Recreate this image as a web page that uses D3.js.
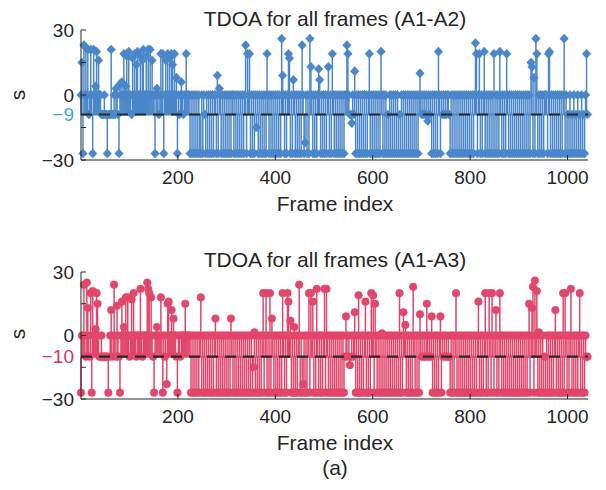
<!DOCTYPE html>
<html><head><meta charset="utf-8">
<script src="https://cdn.jsdelivr.net/npm/d3@7"></script>
<style>
body{margin:0;background:#fff}
text{font-family:"Liberation Sans",Arial,Helvetica,sans-serif;fill:#262626}
</style>
</head><body>
<svg id="chart" width="606" height="490"></svg>
<script>
// ---- data (frame index sampled every 2 frames, starting at frame 1) ----
const frameStart = 1;
const frameStep = 2;
const a2Values = [
 0,15,-27,23,0,22,0,21,-9,0,
 21,0,-27,21,0,4,20,0,16,0,
 0,-9,-9,-9,0,-9,-9,-27,-9,-9,
 -9,21,-9,-9,0,-9,3,0,-9,-27,
 5,0,6,0,19,0,4,18,0,20,
 0,0,-9,17,0,19,0,14,20,0,
 0,18,0,16,21,0,0,18,0,21,
 0,21,0,16,0,0,-27,0,3,0,
 -9,0,19,0,19,-27,0,16,0,19,
 0,17,0,19,14,0,19,0,8,-27,
 0,-9,0,6,0,-9,0,0,19,0,
 0,0,-27,0,-27,0,-27,0,-27,0,
 -27,0,-27,-27,0,-27,0,-9,-27,0,
 -27,0,-27,0,-27,0,-27,0,0,-27,
 9,-27,3,0,-27,0,-27,0,-27,0,
 -27,0,-27,0,-27,0,0,-27,0,-27,
 0,-27,0,-27,0,-27,0,-27,0,23,
 -27,19,0,19,-27,0,-27,0,-27,0,
 -15,0,-27,0,-27,0,-27,0,-27,0,
 -27,19,0,-27,0,-27,0,-27,0,-27,
 0,-27,0,-27,0,-27,26,9,0,-27,
 0,-27,0,19,17,-27,0,-27,7,0,
 -27,0,-27,0,-27,0,-27,23,0,-27,
 -22,0,-27,0,-27,26,13,0,-27,0,
 -27,0,-27,0,12,7,-27,0,-27,0,
 -27,0,-27,0,13,-27,0,-27,19,0,
 -27,0,-27,0,-27,0,-27,0,-27,0,
 -27,0,0,23,19,0,-9,-9,-13,0,
 -9,11,-27,0,-27,0,-27,0,-27,0,
 -27,0,-27,0,-27,0,19,-27,0,-27,
 0,-27,0,-27,0,-27,0,-27,20,0,
 -27,0,-27,0,-27,-9,-27,0,-27,0,
 -27,0,-27,0,-27,0,-27,-9,-27,0,
 -27,0,-27,0,-27,0,-27,0,-27,0,
 -27,0,-27,0,-27,0,-27,0,10,0,
 -9,0,-9,0,-9,0,-12,0,-9,0,
 -27,0,-27,0,-27,0,-27,20,0,-27,
 0,-9,0,-9,0,-9,0,0,-9,-27,
 0,-27,0,-27,0,-27,0,-27,0,-27,
 0,-27,0,-27,0,-27,0,-27,0,-27,
 0,-27,0,-27,0,24,19,-27,0,19,
 -27,0,-27,0,20,-27,0,-27,0,-27,
 0,-27,0,-27,19,-27,0,-27,0,-27,
 20,0,-27,0,-27,0,-27,19,0,-27,
 0,-27,0,-27,0,-27,0,-27,0,-27,
 0,-27,0,-27,0,-27,0,-27,0,-27,
 0,-27,15,13,-27,8,-27,26,19,-27,
 0,-27,0,-27,0,-27,0,0,0,-27,
 19,20,-27,0,-27,0,-27,0,-27,0,
 -27,0,-27,0,-27,0,26,-27,0,-27,
 -9,-27,0,-27,-9,-27,0,-27,-9,-27,
 0,-27,-9,-27,0,-27,-9,-27,0,19,
 -9
];
const a3Values = [
 -27,0,0,24,0,-10,25,13,0,-10,
 20,-27,21,0,0,3,20,15,0,-10,
 -10,0,-10,-10,-10,-10,-10,-10,-27,-10,
 0,12,-10,0,24,0,-10,14,0,-10,
 -27,0,16,0,4,0,18,0,18,0,
 -10,0,17,0,20,0,0,-10,0,0,
 0,22,0,-10,0,0,0,0,25,22,
 20,0,18,0,-10,-27,0,0,4,0,
 0,0,18,0,-27,0,-10,0,-23,15,
 16,0,0,12,0,8,0,0,-10,-27,
 0,0,-10,0,0,0,0,15,0,0,
 0,0,0,-27,0,-27,0,-27,0,-27,
 0,-27,0,18,-27,0,-27,0,-27,0,
 -27,0,-27,0,-27,0,-27,0,8,-27,
 0,-27,0,-27,0,-27,0,-27,0,-27,
 0,-27,0,-27,8,0,-27,0,-27,0,
 -27,0,-27,0,-27,0,-27,0,-27,0,
 -27,0,-27,0,-27,0,-27,-15,1.5,-27,
 0,-27,0,-27,0,-27,0,20,-27,0,
 20,-27,0,-27,20,-27,8,0,-27,0,
 -27,0,-27,0,-27,0,-27,20,0,-27,
 0,-27,20,16,0,7,-27,0,-27,4,
 -27,0,-27,0,24,-27,0,-27,-23,0,
 -27,0,-27,0,20,-27,20,0,16,-27,
 0,-27,22,0,-27,0,-27,0,-27,0,
 22,-27,22,0,-27,0,-27,0,-27,0,
 -27,0,-27,0,-27,0,-27,0,-27,0,
 -27,-10,9,0,-10,0,-14,-10,0,-10,
 0,11,-27,0,-27,19,-27,0,-27,0,
 -27,0,16,-27,0,-27,0,-27,20,0,
 19,-27,15,0,-27,0,-27,0,-27,1,
 -27,0,-27,0,-27,0,-27,0,-27,0,
 -27,0,-27,0,-27,0,-27,20,-27,0,
 -27,11,0,5,-27,0,-27,0,-27,0,
 -27,23,0,-27,0,-27,0,-27,10,0,
 -10,0,-10,0,-10,15,0,-10,0,-10,
 9,-27,0,-27,0,-27,0,-27,0,9,
 -27,0,-10,0,-10,0,-10,0,-10,-27,
 0,-27,0,-27,0,20,-27,0,-27,0,
 -27,0,-27,0,-27,0,-27,0,-27,0,
 -27,0,-27,0,-27,0,-27,0,16,-27,
 0,-27,0,-27,0,20,-27,0,-27,20,
 0,-27,20,0,-27,0,12,-27,0,-27,
 20,0,-27,0,-27,0,-27,0,-27,0,
 -27,0,-27,0,-27,0,-27,0,-27,0,
 -27,0,-27,0,-27,0,-27,0,-27,0,
 15,-27,0,13,23,-27,26,0,21,-27,
 1.5,-27,0,-27,0,-27,-10,-27,0,-27,
 0,-27,0,-27,0,-27,0,12,-27,0,
 -27,0,-27,0,-27,20,-27,20,0,-27,
 0,-27,0,22,-27,0,-27,0,-27,0,
 -27,0,20,-27,0,-27,0,-27,0,-10,
 -10
];
const a2Reference = -9;
const a3Reference = -10;
const titles = ["TDOA for all frames (A1-A2)", "TDOA for all frames (A1-A3)"];
const xTickValues = [200, 400, 600, 800, 1000];
const yTickLabels = [30, 0, -30];
const yMinorTicks = [15, -15];
const xLabel = "Frame index";
const yLabel = "s";
const caption = "(a)";

// ---- drawing ----
const svg = d3.select("#chart");
const x = d3.scaleLinear().domain([1, 1042]).range([81, 588]);

const panels = [
  {values: a2Values, ref: a2Reference, title: titles[0], color: "#4A86CA", refColor: "#3FA6E6",
   marker: "diamond", top: 30, bottom: 160, titleY: 26, yLabelY: 95},
  {values: a3Values, ref: a3Reference, title: titles[1], color: "#E2466A", refColor: "#D8335F",
   marker: "circle", top: 272, bottom: 399, titleY: 267, yLabelY: 334}
];

const diamondPath = "M0,-4.6L4.3,0L0,4.6L-4.3,0Z";

panels.forEach(p => {
  const g = svg.append("g");
  const y = d3.scaleLinear().domain([-30, 30]).range([p.bottom, p.top]);
  const data = p.values.map((v, i) => ({f: frameStart + i * frameStep, v}));

  // stems from the base value
  g.append("g").selectAll("line").data(data).join("line")
    .attr("x1", d => x(d.f)).attr("x2", d => x(d.f))
    .attr("y1", y(p.ref)).attr("y2", d => y(d.v))
    .attr("stroke", p.color).attr("stroke-width", 1.5);

  // baseline
  g.append("line").attr("x1", x(1)).attr("x2", x(1042))
    .attr("y1", y(p.ref)).attr("y2", y(p.ref))
    .attr("stroke", p.color).attr("stroke-width", 2);

  // markers
  const sel = g.append("g").selectAll("path").data(data).join("path")
    .attr("transform", d => `translate(${x(d.f)},${y(d.v)})`)
    .attr("fill", p.color).attr("stroke", p.color).attr("stroke-width", 0.5);
  if (p.marker === "diamond") sel.attr("d", diamondPath);
  else sel.attr("d", d3.symbol().type(d3.symbolCircle).size(46));

  // dashed reference line
  g.append("line").attr("x1", x(1)).attr("x2", x(1042))
    .attr("y1", y(p.ref)).attr("y2", y(p.ref))
    .attr("stroke", "#2a2a2a").attr("stroke-width", 2.2)
    .attr("stroke-dasharray", "11,7");

  // axes
  const axisColor = "#262626";
  g.append("line").attr("x1", x(1)).attr("x2", x(1)).attr("y1", y(30)).attr("y2", y(-30))
    .attr("stroke", axisColor).attr("stroke-width", 1);
  g.append("line").attr("x1", x(1)).attr("x2", x(1042)).attr("y1", y(-30)).attr("y2", y(-30))
    .attr("stroke", axisColor).attr("stroke-width", 1);
  g.append("g").selectAll("line").data(xTickValues).join("line")
    .attr("x1", d => x(d)).attr("x2", d => x(d))
    .attr("y1", y(-30)).attr("y2", y(-30) - 5)
    .attr("stroke", axisColor);
  g.append("g").selectAll("text").data(xTickValues).join("text")
    .attr("x", d => x(d)).attr("y", y(-30) + 24)
    .attr("text-anchor", "middle").attr("font-size", 19).text(d => d);
  g.append("g").selectAll("line").data(yTickLabels.concat(yMinorTicks)).join("line")
    .attr("x1", x(1)).attr("x2", x(1) + 5)
    .attr("y1", d => y(d)).attr("y2", d => y(d))
    .attr("stroke", axisColor);
  g.append("g").selectAll("text").data(yTickLabels).join("text")
    .attr("x", 74).attr("y", d => y(d)).attr("dy", "0.35em")
    .attr("text-anchor", "end").attr("font-size", 19)
    .text(d => d < 0 ? "\u2212" + Math.abs(d) : d);
  g.append("text").attr("x", 74).attr("y", y(p.ref)).attr("dy", "0.35em")
    .attr("text-anchor", "end").attr("font-size", 19)
    .style("fill", p.refColor)
    .text("\u2212" + Math.abs(p.ref));

  // title & labels
  g.append("text").attr("x", 335).attr("y", p.titleY)
    .attr("text-anchor", "middle").attr("font-size", 21).text(p.title);
  g.append("text").attr("x", 335).attr("y", y(-30) + 51)
    .attr("text-anchor", "middle").attr("font-size", 21).text(xLabel);
  g.append("text").attr("transform", `translate(25,${p.yLabelY}) rotate(-90)`)
    .attr("text-anchor", "middle").attr("font-size", 21).text(yLabel);
});

svg.append("text").attr("x", 335).attr("y", 475)
  .attr("text-anchor", "middle").attr("font-size", 21).text(caption);
</script>
</body></html>
